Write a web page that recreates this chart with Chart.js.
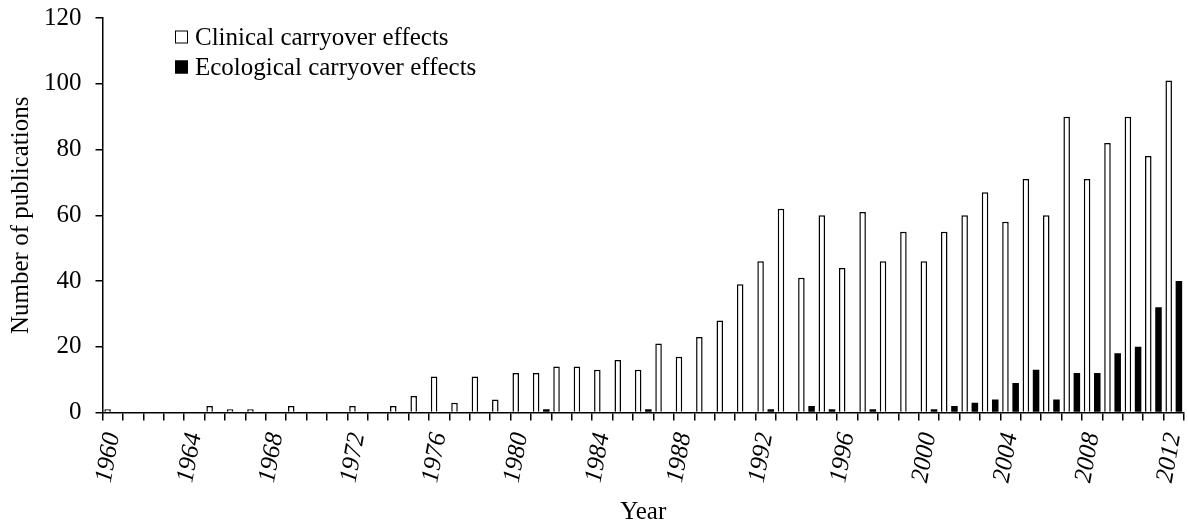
<!DOCTYPE html>
<html>
<head>
<meta charset="utf-8">
<script src="https://cdn.jsdelivr.net/npm/chart.js@4.4.0/dist/chart.umd.min.js"></script>
<style>
  html, body { margin: 0; padding: 0; background: #fff; }
  #wrap { width: 1188px; height: 525px; position: relative; }
</style>
</head>
<body>
<div id="wrap"><canvas id="chart"></canvas></div>
<script>
// Data
const years = [];
for (let y = 1960; y <= 2012; y++) years.push(String(y));

const clinical = [
  1, 0, 0, 0, 0, 2, 1, 1, 0, 2,
  0, 0, 2, 0, 2, 5, 11, 3, 11, 4,
  12, 12, 14, 14, 13, 16, 13, 21, 17, 23,
  28, 39, 46, 62, 41, 60, 44, 61, 46, 55,
  46, 55, 60, 67, 58, 71, 60, 90, 71, 82,
  90, 78, 101
];

const ecological = [
  0, 0, 0, 0, 0, 0, 0, 0, 0, 0,
  0, 0, 0, 0, 0, 0, 0, 0, 0, 0,
  0, 1, 0, 0, 0, 0, 1, 0, 0, 0,
  0, 0, 1, 0, 2, 1, 0, 1, 0, 0,
  1, 2, 3, 4, 9, 13, 4, 12, 12, 18,
  20, 32, 40
];

const yTicks = [0, 20, 40, 60, 80, 100, 120];

const FONT = '"Liberation Serif", "Times New Roman", serif';

// Legend drawn inside the plot area, top-left
const insideLegend = {
  id: 'insideLegend',
  afterDraw(chart) {
    const ctx = chart.ctx;
    const x0 = 175, y0 = 37, gap = 30, box = 13;
    ctx.save();
    ctx.font = '25px ' + FONT;
    ctx.textBaseline = 'middle';
    chart.data.datasets.forEach((ds, i) => {
      const y = y0 + i * gap;
      ctx.fillStyle = ds.backgroundColor;
      ctx.fillRect(x0, y - box / 2, box, box);
      ctx.strokeStyle = '#000';
      ctx.lineWidth = 1;
      ctx.strokeRect(x0 + 0.5, y - box / 2 + 0.5, box - 1, box - 1);
      ctx.fillStyle = '#000';
      ctx.fillText(ds.label, x0 + box + 7, y + 1);
    });
    ctx.restore();
  }
};

const ctx = document.getElementById('chart').getContext('2d');
new Chart(ctx, {
  type: 'bar',
  data: {
    labels: years,
    datasets: [
      {
        label: 'Clinical carryover effects',
        data: clinical,
        backgroundColor: '#ffffff',
        borderColor: '#000000',
        borderWidth: 1.5,
        barPercentage: 0.64,
        categoryPercentage: 1.0
      },
      {
        label: 'Ecological carryover effects',
        data: ecological,
        backgroundColor: '#000000',
        borderColor: '#000000',
        borderWidth: 0,
        barPercentage: 0.64,
        categoryPercentage: 1.0
      }
    ]
  },
  options: {
    responsive: true,
    maintainAspectRatio: false,
    animation: false,
    layout: { padding: { top: 18, right: 4, bottom: 0, left: 6 } },
    plugins: {
      legend: { display: false },
      tooltip: { enabled: false }
    },
    scales: {
      x: {
        afterFit: (scale) => {
          scale.paddingLeft = 0;
          scale.paddingRight = 0;
        },
        grid: {
          offset: true,
          drawOnChartArea: false,
          drawTicks: true,
          tickLength: 8,
          color: '#000',
          lineWidth: 1.5
        },
        border: { display: true, color: '#000', width: 1.5 },
        ticks: {
          autoSkip: false,
          maxRotation: 80,
          minRotation: 80,
          color: '#000',
          padding: 10,
          font: { family: FONT, size: 25, style: 'italic' },
          callback: function(value, index) {
            return index % 4 === 0 ? this.getLabelForValue(value) : '';
          }
        },
        title: {
          display: true,
          text: 'Year',
          color: '#000',
          padding: { top: 5, bottom: 0 },
          font: { family: FONT, size: 25, lineHeight: 1.0 }
        }
      },
      y: {
        min: 0,
        max: 120,
        afterBuildTicks: (axis) => {
          axis.ticks = yTicks.map(v => ({ value: v }));
        },
        afterFit: (scale) => {
          scale.paddingTop = 0;
          scale.paddingBottom = 0;
        },
        grid: {
          drawOnChartArea: false,
          drawTicks: true,
          tickLength: 7,
          color: '#000',
          lineWidth: 1.5
        },
        border: { display: true, color: '#000', width: 1.5 },
        ticks: {
          color: '#000',
          padding: 14,
          font: { family: FONT, size: 25 }
        },
        title: {
          display: true,
          text: 'Number of publications',
          color: '#000',
          padding: { top: 0, bottom: -6 },
          font: { family: FONT, size: 25 }
        }
      }
    }
  },
  plugins: [insideLegend]
});
</script>
</body>
</html>
